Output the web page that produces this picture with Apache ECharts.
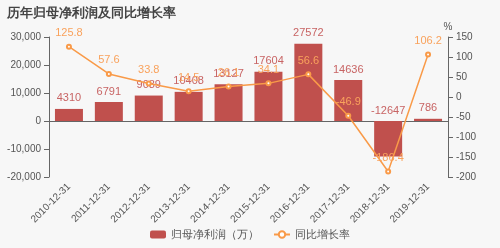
<!DOCTYPE html>
<html><head><meta charset="utf-8">
<script src="https://cdn.jsdelivr.net/npm/echarts@6/dist/echarts.min.js"></script>
<style>html,body{margin:0;padding:0;background:#f7f7f7}#c{width:500px;height:248px}</style>
</head><body><div id="c"></div>
<script>
const categories = ['2010-12-31','2011-12-31','2012-12-31','2013-12-31','2014-12-31','2015-12-31','2016-12-31','2017-12-31','2018-12-31','2019-12-31'];
const profit = [4310, 6791, 9089, 10408, 13127, 17604, 27572, 14636, -12647, 786];
const growth = [125.8, 57.6, 33.8, 14.5, 26.1, 34.1, 56.6, -46.9, -186.4, 106.2];
const leftTicks = {min: -20000, max: 30000, interval: 10000};
const rightTicks = {min: -200, max: 150, interval: 50};

const chart = echarts.init(document.getElementById('c'));
const font = 'sans-serif';
chart.setOption({
  backgroundColor: '#f7f7f7',
  animation: false,
  title: {text: '历年归母净利润及同比增长率', left: 2, top: 2, textStyle: {fontSize: 13, fontWeight: 'bold', color: '#444', fontFamily: font}},
  legend: {bottom: 3, itemWidth: 16, itemHeight: 8, itemGap: 14, textStyle: {fontSize: 11, color: '#555'},
    data: [{name: '归母净利润（万）', icon: 'roundRect'}, {name: '同比增长率'}]},
  grid: {left: 49, right: 52, top: 37, bottom: 71, containLabel: false, outerBoundsMode: 'none'},
  xAxis: {type: 'category', data: categories,
    axisLine: {lineStyle: {color: '#666'}}, axisTick: {lineStyle: {color: '#666'}},
    axisLabel: {rotate: 45, fontSize: 10, color: '#555', interval: 0, margin: 8}},
  yAxis: [
    {type: 'value', min: leftTicks.min, max: leftTicks.max, interval: leftTicks.interval,
      splitLine: {show: false}, axisLine: {show: true, lineStyle: {color: '#666'}}, axisTick: {show: true},
      axisLabel: {fontSize: 10, color: '#555'}},
    {type: 'value', name: '%', nameTextStyle: {fontSize: 10, color: '#555', padding: [0, 0, -4, 0]}, nameGap: 8,
      min: rightTicks.min, max: rightTicks.max, interval: rightTicks.interval,
      splitLine: {show: false}, axisLine: {show: true, lineStyle: {color: '#666'}}, axisTick: {show: true},
      axisLabel: {fontSize: 10, color: '#555'}}
  ],
  series: [
    {name: '归母净利润（万）', type: 'bar', data: profit, barWidth: 28,
      itemStyle: {color: '#c0504d'},
      label: {show: true, position: 'top', fontSize: 11, color: '#c86464'}},
    {name: '同比增长率', type: 'line', yAxisIndex: 1, data: growth,
      symbol: 'emptyCircle', symbolSize: 4,
      lineStyle: {color: '#f99a48', width: 1.5}, itemStyle: {color: '#f99a48'},
      label: {show: true, position: 'top', fontSize: 11, color: '#f9a25c'}}
  ]
});
</script></body></html>
